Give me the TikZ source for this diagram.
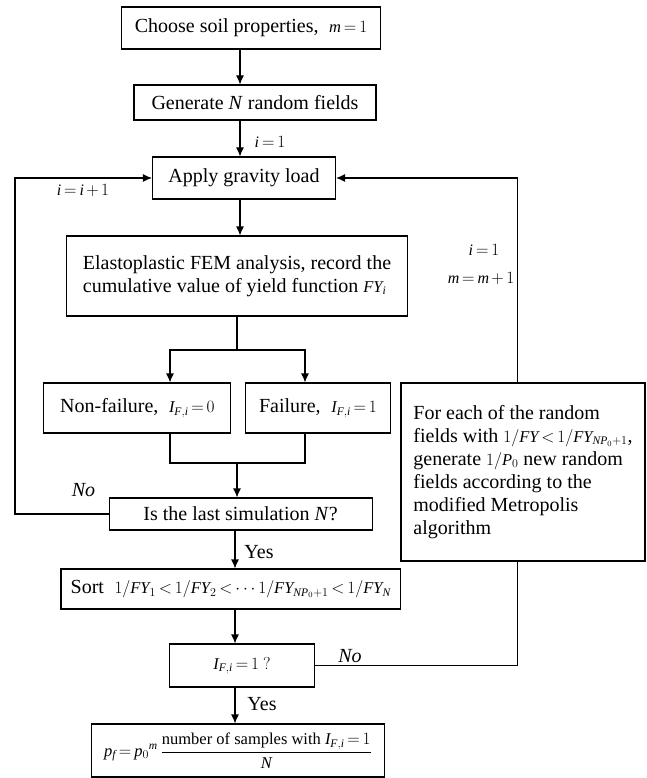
\documentclass[tikz,border=0pt]{standalone}
\usepackage{fontspec}
\setmainfont{Liberation Serif}
\usetikzlibrary{arrows.meta}
% Times-like italic letters in formulas
\DeclareSymbolFont{tmsit}{TU}{\rmdefault}{m}{it}
\DeclareMathSymbol{m}{\mathalpha}{tmsit}{`m}
\DeclareMathSymbol{i}{\mathalpha}{tmsit}{`i}
\DeclareMathSymbol{p}{\mathalpha}{tmsit}{`p}
\DeclareMathSymbol{f}{\mathalpha}{tmsit}{`f}
\DeclareMathSymbol{F}{\mathalpha}{tmsit}{`F}
\DeclareMathSymbol{Y}{\mathalpha}{tmsit}{`Y}
\DeclareMathSymbol{N}{\mathalpha}{tmsit}{`N}
\DeclareMathSymbol{P}{\mathalpha}{tmsit}{`P}
\DeclareMathSymbol{I}{\mathalpha}{tmsit}{`I}
\thickmuskip=3mu plus 2mu
\medmuskip=2.5mu plus 1mu
\newcommand{\mth}[1]{{\fontsize{16.5}{19}\selectfont$#1$}}

\begin{document}
\begin{tikzpicture}
	% Styles
	[x=1pt, y=-1pt,
	box/.style={draw, line width=1.1pt, inner sep=0pt, font=\fontsize{20}{23}\selectfont},
	lbl/.style={inner sep=0pt, font=\fontsize{16}{19}\selectfont},
	word/.style={inner sep=0pt, font=\fontsize{20}{23}\selectfont},
	flow/.style={line width=1.1pt},
	arr/.style={flow, -{Latex[length=9pt,width=8pt]}},
	]
	\useasboundingbox (0,0) rectangle (646,778);

	% Nodes
	\node at (251,28)	(soil)	[box, minimum width=259pt, minimum height=42pt]	{Choose soil properties,\; \mth{m=1}};
	\node at (255,102.5)	(gen)	[box, minimum width=242pt, minimum height=35pt]	{Generate \textit{N} random fields};
	\node at (244,178)	(grav)	[box, minimum width=183pt, minimum height=42pt]	{Apply gravity load};
	\node at (237,276)	(fem)	[box, minimum width=341pt, minimum height=80pt, align=left]	{Elastoplastic FEM analysis, record the\\ cumulative value of yield function \mth{FY_i}};
	\node at (137.4,408)	(nofail)	[box, minimum width=187pt, minimum height=50pt]	{Non-failure,\; \mth{I_{F,i}=0}};
	\node at (318,408)	(fail)	[box, minimum width=145pt, minimum height=50pt]	{Failure,\; \mth{I_{F,i}=1}};
	\node at (523,472)	(mcmc)	[box, minimum width=244pt, minimum height=178pt, align=left]	{For each of the random\\ fields with \mth{1/FY<1/FY_{NP_0+1}},\\ generate \mth{1/P_0} new random\\ fields according to the\\ modified Metropolis\\ algorithm};
	\node at (240.6,514)	(last)	[box, minimum width=263pt, minimum height=32pt]	{Is the last simulation \textit{N}?};
	\node at (230.7,589)	(sort)	[box, minimum width=339.5pt, minimum height=40pt]	{Sort\; \mth{1/FY_1<1/FY_2<\cdots 1/FY_{NP_0+1}<1/FY_N}};
	\node at (242,665.5)	(fails)	[box, minimum width=145.5pt, minimum height=43pt]	{\mth{I_{F,i}=1\ ?}};
	\node at (238,750.5)	(pf)	[box, minimum width=293pt, minimum height=53pt]	{{\fontsize{16.5}{20}\selectfont$\displaystyle p_f=p_0{}^{m}\,\frac{\mbox{number of samples with }I_{F,i}=1}{N}$}};

	% Points
	\coordinate (spA) at (240,0);
	\coordinate (spB) at (235,0);
	\coordinate (sl) at (170,0);
	\coordinate (sr) at (305,0);
	\coordinate (split) at (237,350);
	\coordinate (merge) at (237,463);
	\coordinate (lft) at (15,350);
	\coordinate (rgt) at (517.5,300);

	% Arrows
	\draw[arr] (soil.south -| spA) -- (gen.north -| spA);
	\draw[arr] (gen.south -| spA) -- (grav.north -| spA);
	\draw[arr] (grav.south -| spA) -- (fem.north -| spA);
	\draw[flow] (fem.south -| split) -- (split);
	\draw[arr] (split) -| (nofail.north -| sl);
	\draw[arr] (split) -| (fail.north -| sr);
	\draw[flow] (nofail.south -| sl) |- (merge) -| (fail.south -| sr);
	\draw[arr] (merge) -- (last.north -| merge);
	\draw[arr] (last.west) -| (lft) |- (grav.west);
	\draw[arr] (last.south -| spB) -- (sort.north -| spB);
	\draw[arr] (sort.south -| spB) -- (fails.north -| spB);
	\draw[arr] (fails.south -| spB) -- (pf.north -| spB);
	\draw[flow] (fails.east) -| (mcmc.south -| rgt);
	\draw[arr] (mcmc.north -| rgt) |- (grav.east);

	% Text
	\node at (270,142)	(ione)	[lbl]	{$i=1$};
	\node at (83,190)	(iinc)	[lbl]	{$i=i+1$};
	\node at (484,250)	(ireset)	[lbl]	{$i=1$};
	\node at (481,278)	(minc)	[lbl]	{$m=m+1$};
	\node at (83.5,490)	(nol)	[word]	{\textit{No}};
	\node at (259,552)	(yesa)	[word]	{Yes};
	\node at (350,656)	(nor)	[word]	{\textit{No}};
	\node at (262,704)	(yesb)	[word]	{Yes};
\end{tikzpicture}
\end{document}
